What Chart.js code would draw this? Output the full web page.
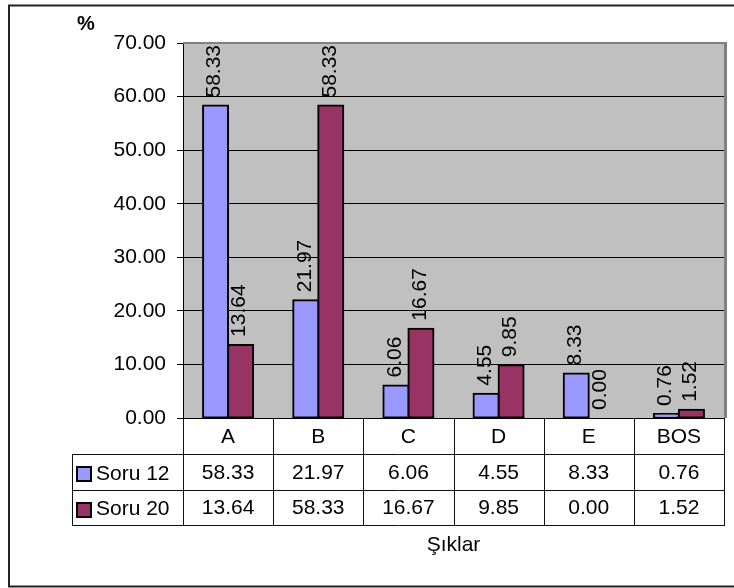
<!DOCTYPE html>
<html>
<head>
<meta charset="utf-8">
<script src="https://cdn.jsdelivr.net/npm/chart.js@4.4.0/dist/chart.umd.min.js"></script>
<style>
  html, body { margin: 0; padding: 0; background: #fff; }
</style>
</head>
<body>
<canvas id="siklarChart" width="734" height="588"></canvas>
<script>
const categories = ["A", "B", "C", "D", "E", "BOS"];
const soru12 = [58.33, 21.97, 6.06, 4.55, 8.33, 0.76];
const soru20 = [13.64, 58.33, 16.67, 9.85, 0.00, 1.52];
const seriesNames = ["Soru 12", "Soru 20"];
const seriesColors = ["#9999FF", "#993366"];
const yTicks = [0, 10, 20, 30, 40, 50, 60, 70];

const FONT = "'Liberation Sans', Arial, sans-serif";

// grey plot background, drawn under the bars
const plotBackground = {
    id: "plotBackground",
    beforeDraw(chart) {
        const { ctx, chartArea: a } = chart;
        ctx.save();
        ctx.fillStyle = "#C0C0C0";
        ctx.fillRect(a.left, a.top, a.right - a.left, a.bottom - a.top);
        ctx.restore();
    }
};

// values written vertically above each bar
const barLabels = {
    id: "barLabels",
    afterDatasetsDraw(chart) {
        const ctx = chart.ctx;
        ctx.save();
        ctx.font = "21px " + FONT;
        ctx.fillStyle = "#000";
        ctx.textAlign = "left";
        ctx.textBaseline = "middle";
        chart.data.datasets.forEach((ds, i) => {
            chart.getDatasetMeta(i).data.forEach((bar, j) => {
                ctx.save();
                ctx.translate(bar.x - 1, bar.y - 8);
                ctx.rotate(-Math.PI / 2);
                ctx.fillText(ds.data[j].toFixed(2), 0, 0);
                ctx.restore();
            });
        });
        ctx.restore();
    }
};

// plot frame shadow, data table, axis title, outer border
const tableAndFrame = {
    id: "tableAndFrame",
    afterDraw(chart) {
        const { ctx, chartArea: a } = chart;
        const n = categories.length;
        const w = (a.right - a.left) / n;
        const rowTop = a.bottom;
        const rowH = [36, 36, 35];
        const legendLeft = 72;

        ctx.save();
        // shadowed top/right edge of plot area
        ctx.strokeStyle = "#808080";
        ctx.lineWidth = 2;
        ctx.beginPath();
        ctx.moveTo(a.left, a.top);
        ctx.lineTo(a.right + 1, a.top);
        ctx.stroke();
        ctx.lineWidth = 3;
        ctx.beginPath();
        ctx.moveTo(a.right + 1.5, a.top - 1);
        ctx.lineTo(a.right + 1.5, a.bottom);
        ctx.stroke();

        // table grid
        const y1 = rowTop + rowH[0];
        const y2 = y1 + rowH[1];
        const y3 = y2 + rowH[2];
        ctx.strokeStyle = "#111";
        ctx.lineWidth = 1;
        ctx.beginPath();
        [y1, y2, y3].forEach(y => {
            ctx.moveTo(legendLeft, y + 0.5);
            ctx.lineTo(a.right + 1, y + 0.5);
        });
        for (let i = 0; i <= n; i++) {
            const x = Math.round(a.left + i * w) + 0.5;
            ctx.moveTo(x, rowTop);
            ctx.lineTo(x, y3 + 1);
        }
        ctx.moveTo(legendLeft + 0.5, y1);
        ctx.lineTo(legendLeft + 0.5, y3 + 1);
        ctx.stroke();

        // table text
        ctx.fillStyle = "#000";
        ctx.font = "21px " + FONT;
        ctx.textAlign = "center";
        ctx.textBaseline = "middle";
        const rows = [soru12, soru20];
        categories.forEach((c, i) => {
            const cx = a.left + (i + 0.5) * w;
            ctx.fillText(c, cx, rowTop + rowH[0] / 2 + 1);
            ctx.fillText(rows[0][i].toFixed(2), cx, y1 + rowH[1] / 2 + 1);
            ctx.fillText(rows[1][i].toFixed(2), cx, y2 + rowH[2] / 2 + 1);
        });

        // legend keys in the first column
        ctx.textAlign = "left";
        [y1, y2].forEach((y, k) => {
            const top = y + 13;
            ctx.fillStyle = seriesColors[k];
            ctx.fillRect(77, top, 14, 14);
            ctx.strokeStyle = "#000";
            ctx.lineWidth = 2;
            ctx.strokeRect(77, top, 14, 14);
            ctx.fillStyle = "#000";
            ctx.fillText(seriesNames[k], 96, y + rowH[k + 1] / 2 + 2);
        });

        // axis titles
        ctx.textAlign = "center";
        ctx.fillText("Şıklar", (a.left + a.right) / 2, 545);
        ctx.font = "bold 20px " + FONT;
        ctx.fillText("%", 86, 24);

        // outer chart border
        ctx.strokeStyle = "#222";
        ctx.lineWidth = 2;
        ctx.strokeRect(9, 5.5, 800, 581);
        ctx.restore();
    }
};

new Chart(document.getElementById("siklarChart"), {
    type: "bar",
    data: {
        labels: categories,
        datasets: [{
            label: seriesNames[0],
            data: soru12,
            backgroundColor: seriesColors[0],
            borderColor: "#000",
            borderWidth: 2,
            borderSkipped: false,
            inflateAmount: 1,
        }, {
            label: seriesNames[1],
            data: soru20,
            backgroundColor: seriesColors[1],
            borderColor: "#000",
            borderWidth: 2,
            borderSkipped: false,
            inflateAmount: 1,
        }]
    },
    options: {
        responsive: false,
        animation: false,
        layout: { padding: { top: 43, right: 10, bottom: 170, left: 0 } },
        datasets: { bar: { categoryPercentage: 0.555, barPercentage: 1 } },
        plugins: { legend: { display: false }, tooltip: { enabled: false } },
        scales: {
            x: { display: false },
            y: {
                min: 0,
                max: 70,
                afterBuildTicks: scale => { scale.ticks = yTicks.map(v => ({ value: v })); },
                afterFit: scale => { scale.width = 183; },
                ticks: {
                    color: "#000",
                    padding: 11,
                    font: { family: FONT, size: 21 },
                    callback: v => Number(v).toFixed(2),
                },
                grid: { color: "#000", lineWidth: 1, tickLength: 6, tickColor: "#000" },
                border: { color: "#000", width: 1 },
            }
        }
    },
    plugins: [plotBackground, barLabels, tableAndFrame]
});
</script>
</body>
</html>
